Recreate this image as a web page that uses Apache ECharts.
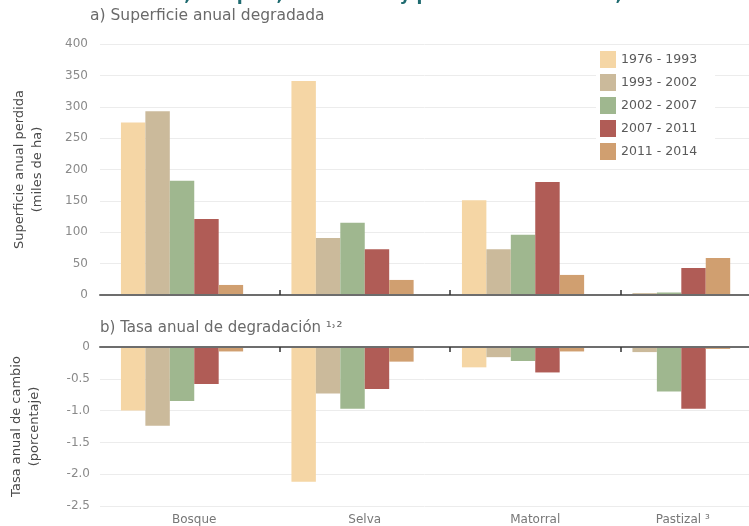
<!DOCTYPE html>
<html>
<head>
<meta charset="utf-8">
<script src="https://cdn.jsdelivr.net/npm/echarts@6/dist/echarts.min.js"></script>
<style>html,body{margin:0;padding:0;background:#fff;}#c{width:749px;height:526px;}</style>
</head>
<body>
<div id="c"></div>
<script>
// ---- data ----
const categories = ['Bosque', 'Selva', 'Matorral', 'Pastizal'];
const periods = ['1976 - 1993', '1993 - 2002', '2002 - 2007', '2007 - 2011', '2011 - 2014'];
const periodColors = ['#f5d6a5', '#cbba9b', '#9fb78f', '#b05c56', '#d09f70'];
// a) Superficie anual degradada (miles de ha)
const area_1976_1993 = [275, 341, 151, null];
const area_1993_2002 = [293, 91, 73, 3];
const area_2002_2007 = [182, 115, 96, 4];
const area_2007_2011 = [121, 73, 180, 43];
const area_2011_2014 = [16, 24, 32, 59];
// b) Tasa anual de degradación (porcentaje)
const rate_1976_1993 = [-1.0, -2.12, -0.32, null];
const rate_1993_2002 = [-1.24, -0.73, -0.16, -0.08];
const rate_2002_2007 = [-0.85, -0.97, -0.22, -0.70];
const rate_2007_2011 = [-0.58, -0.66, -0.40, -0.97];
const rate_2011_2014 = [-0.07, -0.23, -0.07, -0.03];
const areaTicks = [0, 50, 100, 150, 200, 250, 300, 350, 400];
const rateTicks = ['0', '-0.5', '-1.0', '-1.5', '-2.0', '-2.5'];

const areaSeries = [area_1976_1993, area_1993_2002, area_2002_2007, area_2007_2011, area_2011_2014];
const rateSeries = [rate_1976_1993, rate_1993_2002, rate_2002_2007, rate_2007_2011, rate_2011_2014];

// bars of each category are packed into consecutive slots (missing periods leave no gap)
function buildSlots(seriesArr) {
  const slots = periods.map(() => []);
  categories.forEach((c, ci) => {
    const present = [];
    seriesArr.forEach((arr, pi) => { if (arr[ci] !== null) present.push(pi); });
    for (let s = 0; s < periods.length; s++) {
      if (s < present.length) {
        const pi = present[s];
        slots[s].push({ value: seriesArr[pi][ci], itemStyle: { color: periodColors[pi] } });
      } else slots[s].push('-');
    }
  });
  return slots;
}
const areaSlots = buildSlots(areaSeries);
const rateSlots = buildSlots(rateSeries);

const FONT = 'DejaVu Sans';
const labelColor = '#8a8a8a';
const gridColor = '#ececec';
const axisDark = '#6d6d6d';

const series = [];
periods.forEach((p, i) => {
  series.push({ name: p, type: 'bar', xAxisIndex: 1, yAxisIndex: 1, data: areaSlots[i],
    itemStyle: { color: periodColors[i] }, barGap: '0%', barCategoryGap: '14%' });
});
series.push({ name: '_pad1', type: 'bar', xAxisIndex: 1, yAxisIndex: 1, data: categories.map(() => '-'), barGap: '0%', barCategoryGap: '14%' });
periods.forEach((p, i) => {
  series.push({ name: p, type: 'bar', xAxisIndex: 3, yAxisIndex: 3, data: rateSlots[i],
    itemStyle: { color: periodColors[i] }, barGap: '0%', barCategoryGap: '14%' });
});
series.push({ name: '_pad2', type: 'bar', xAxisIndex: 3, yAxisIndex: 3, data: categories.map(() => '-'), barGap: '0%', barCategoryGap: '14%' });

const chart = echarts.init(document.getElementById('c'), null, { renderer: 'canvas' });
chart.setOption({
  animation: false,
  textStyle: { fontFamily: FONT },
  graphic: [
    { type: 'text', left: 124, top: -13, silent: true,
      style: { text: 'selvas, bosques, matorrales y pastizales en México, 1976-2014', fill: '#1f6b70', font: 'bold 17px "' + FONT + '"' } },
    { type: 'text', left: 90, top: 8, silent: true,
      style: { text: 'a) Superficie anual degradada', fill: '#6a6a6a', font: '15.5px "' + FONT + '"' } },
    { type: 'text', left: 100, top: 321, silent: true,
      style: { text: 'b) Tasa anual de degradación ¹˒²', fill: '#6a6a6a', font: '15px "' + FONT + '"' } }
  ],
  legend: {
    data: periods, orient: 'vertical', left: 596, top: 47,
    itemWidth: 16, itemHeight: 17, itemGap: 6, icon: 'rect',
    backgroundColor: '#fff', padding: [4, 18, 4, 4],
    textStyle: { color: '#5a5a5a', fontSize: 12.5, fontFamily: FONT }
  },
  grid: [
    { left: 100, right: 0, top: 44, height: 251, outerBoundsMode: 'none' },
    { left: 109, width: 682, top: 44, height: 251, outerBoundsMode: 'none' },
    { left: 100, right: 0, top: 347, height: 159, outerBoundsMode: 'none' },
    { left: 109, width: 682, top: 347, height: 159, outerBoundsMode: 'none' }
  ],
  xAxis: [
    { gridIndex: 0, type: 'value', min: 0, max: 1, z: 10, axisLine: { show: true, lineStyle: { color: axisDark, width: 2 } },
      axisTick: { show: false }, axisLabel: { show: false }, splitLine: { show: false } },
    { gridIndex: 1, type: 'category', data: categories, z: 11, axisLine: { show: false },
      axisTick: { show: true, inside: true, length: 5, lineStyle: { color: '#333', width: 1.5 }, interval: function (i) { return i !== 0; } },
      axisLabel: { show: false } },
    { gridIndex: 2, type: 'value', min: 0, max: 1, position: 'top', z: 10, axisLine: { show: true, lineStyle: { color: axisDark, width: 2 } },
      axisTick: { show: false }, axisLabel: { show: false }, splitLine: { show: false } },
    { gridIndex: 3, type: 'category', data: categories, position: 'bottom', axisLine: { show: false, onZero: false },
      axisTick: { show: false },
      axisLabel: { show: true, margin: 8, color: '#777', fontSize: 12, fontFamily: FONT,
        formatter: function (v) { return v === 'Pastizal' ? '{p|Pastizal ³}' : v; },
        rich: { p: { color: '#777', fontSize: 12, fontFamily: FONT, padding: [0, 46, 0, 0] } } } },
    { gridIndex: 3, type: 'category', data: categories, position: 'top', z: 11, axisLine: { show: false, onZero: false },
      axisTick: { show: true, inside: true, length: 5, lineStyle: { color: '#333', width: 1.5 }, interval: function (i) { return i !== 0; } },
      axisLabel: { show: false } }
  ],
  yAxis: [
    { gridIndex: 0, type: 'value', min: areaTicks[0], max: areaTicks[areaTicks.length - 1], interval: 50,
      name: 'Superficie anual perdida\n(miles de ha)', nameLocation: 'middle', nameGap: 53, nameRotate: 90,
      nameTextStyle: { color: '#4a4a4a', fontSize: 13, lineHeight: 18, fontFamily: FONT },
      axisLine: { show: false }, axisTick: { show: false },
      axisLabel: { color: labelColor, fontSize: 12, margin: 12, fontFamily: FONT },
      splitLine: { lineStyle: { color: gridColor } } },
    { gridIndex: 1, type: 'value', min: 0, max: 400, show: false },
    { gridIndex: 2, type: 'value', min: -2.5, max: 0, interval: 0.5,
      name: 'Tasa anual de cambio\n(porcentaje)', nameLocation: 'middle', nameGap: 56, nameRotate: 90,
      nameTextStyle: { color: '#4a4a4a', fontSize: 13, lineHeight: 18, fontFamily: FONT },
      axisLine: { show: false }, axisTick: { show: false },
      axisLabel: { color: labelColor, fontSize: 12, margin: 10, fontFamily: FONT,
        formatter: function (v) { return rateTicks[Math.round(-v / 0.5)]; } },
      splitLine: { lineStyle: { color: gridColor } } },
    { gridIndex: 3, type: 'value', min: -2.5, max: 0, show: false }
  ],
  series: series
});
</script>
</body>
</html>
